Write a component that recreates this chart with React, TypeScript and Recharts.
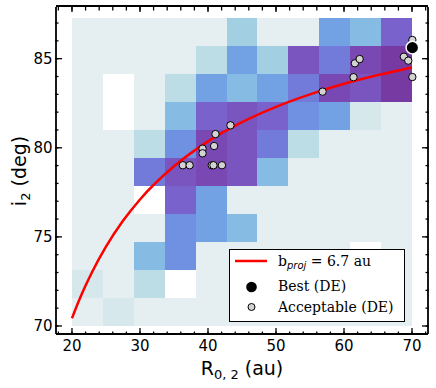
import React from 'react';
import { ComposedChart, XAxis, YAxis, ReferenceArea, Line, Scatter } from 'recharts';

// bin edges of the 2D histogram
const xEdges = [20, 24.55, 29.09, 33.64, 38.18, 42.73, 47.27, 51.82, 56.36, 60.91, 65.45, 70];
const yEdges = [70.0, 71.57, 73.14, 74.71, 76.28, 77.86, 79.43, 81.0, 82.57, 84.14, 85.71, 87.28];

// colour levels, 0 = empty bin
const palette = [
  '#ffffff', '#e5eef0', '#d6e8ec', '#bcdde6', '#a3cfe2', '#86bce4', '#72a2e3',
  '#7090e2', '#727ada', '#7962cc', '#7a55c0', '#7a48b3', '#773aa2',
];

// rows listed from top (highest i2) to bottom
const binLevels = [
  [1, 1, 1, 1, 1, 4, 1, 1, 6, 5, 9],
  [1, 1, 1, 1, 3, 6, 4, 10, 8, 11, 12],
  [1, 0, 1, 3, 6, 5, 6, 8, 11, 10, 12],
  [1, 0, 1, 5, 9, 10, 9, 7, 6, 2, 1],
  [1, 1, 3, 7, 11, 10, 8, 3, 1, 1, 1],
  [1, 1, 8, 10, 11, 10, 5, 1, 1, 1, 1],
  [1, 1, 0, 9, 6, 1, 1, 1, 1, 1, 1],
  [1, 1, 1, 7, 6, 5, 1, 1, 1, 1, 1],
  [1, 1, 5, 7, 1, 1, 1, 1, 1, 0, 1],
  [2, 1, 3, 0, 1, 1, 1, 1, 1, 1, 1],
  [1, 2, 1, 1, 1, 1, 1, 1, 1, 1, 1],
];

// b_proj = 6.7 au curve
const curveR = [20, 21, 22, 23, 25, 27.5, 30, 35, 40, 45, 50, 55, 60, 65, 70];
const curveI = [70.43, 71.4, 72.27, 73.06, 74.45, 75.9, 77.1, 78.96, 80.36, 81.44, 82.3, 83.0, 83.59, 84.08, 84.51];

const acceptR = [36.3, 37.3, 39.2, 39.2, 40.9, 41.1, 40.55, 40.8, 42.05, 43.3, 56.85, 61.4, 61.6, 62.3, 68.8, 69.45, 70.05, 70.05];
const acceptI = [79.02, 79.02, 79.95, 79.69, 80.1, 80.77, 79.02, 79.02, 79.02, 81.26, 83.15, 83.96, 84.74, 84.98, 85.11, 84.89, 83.97, 86.05];

const bestR = [70.05];
const bestI = [85.62];

const xMinor = [18, 20, 22, 24, 26, 28, 30, 32, 34, 36, 38, 40, 42, 44, 46, 48, 50, 52, 54, 56, 58, 60, 62, 64, 66, 68, 70, 72];
const xMajor = [20, 30, 40, 50, 60, 70];
const yMinor = [70, 71, 72, 73, 74, 75, 76, 77, 78, 79, 80, 81, 82, 83, 84, 85, 86, 87];
const yMajor = [70, 75, 80, 85];

const curveData = curveR.map((x, i) => ({ x, y: curveI[i] }));
const acceptData = acceptR.map((x, i) => ({ x, y: acceptI[i] }));
const bestData = bestR.map((x, i) => ({ x, y: bestI[i] }));

const xDomain = [17.65, 72.35];
const yDomain = [69.55, 87.9];

const SANS = '"DejaVu Sans", sans-serif';
const SERIF = '"DejaVu Serif", serif';
const FRAME = { stroke: '#000', strokeWidth: 1.8 };
const TICKLINE = { stroke: '#000', strokeWidth: 1.3 };

const BottomLabel = (props: any) => (
  <text x={props.x} y={props.y + 17} textAnchor="middle" fontSize={15} fontFamily={SANS} fill="#000">
    {props.payload.value}
  </text>
);
const LeftLabel = (props: any) => (
  <text x={props.x - 3.5} y={props.y} dy="0.36em" textAnchor="end" fontSize={15} fontFamily={SANS} fill="#000">
    {props.payload.value}
  </text>
);
const NoLabel = () => <g />;
const Hidden = () => <g />;

const AcceptDot = (props: any) => (
  <circle cx={props.cx} cy={props.cy} r={3.7} fill="#d3d3d3" stroke="#000" strokeWidth={1} />
);
const BestDot = (props: any) => (
  <circle cx={props.cx} cy={props.cy} r={6.3} fill="#000" stroke="#fff" strokeWidth={1.5} />
);

export default function App() {
  const nRows = binLevels.length;
  return (
    <div style={{ position: 'absolute', left: 0, top: 0, width: 436, height: 388, background: '#fff', fontFamily: SANS }}>
      <ComposedChart width={436} height={388} margin={{ top: 5, right: 6, left: 54, bottom: 52 }}>
        {/* major ticks + frame */}
        <XAxis
          type="number" dataKey="x" domain={xDomain} allowDataOverflow
          ticks={xMajor} interval={0} height={1} tickSize={-6} tickMargin={6}
          tickLine={TICKLINE} axisLine={FRAME} tick={BottomLabel}
        />
        <XAxis
          xAxisId="top" orientation="top" type="number" dataKey="x" domain={xDomain} allowDataOverflow
          ticks={xMajor} interval={0} height={1} tickSize={-6} tickMargin={6}
          tickLine={TICKLINE} axisLine={FRAME} tick={NoLabel}
        />
        <YAxis
          type="number" dataKey="y" domain={yDomain} allowDataOverflow
          ticks={yMajor} interval={0} width={1} tickSize={-6} tickMargin={6}
          tickLine={TICKLINE} axisLine={FRAME} tick={LeftLabel}
        />
        <YAxis
          yAxisId="right" orientation="right" type="number" dataKey="y" domain={yDomain} allowDataOverflow
          ticks={yMajor} interval={0} width={1} tickSize={-6} tickMargin={6}
          tickLine={TICKLINE} axisLine={FRAME} tick={NoLabel}
        />
        {/* minor ticks */}
        <XAxis
          xAxisId="bminor" type="number" dataKey="x" domain={xDomain} allowDataOverflow
          ticks={xMinor} interval={0} height={1} tickSize={-3.5} tickMargin={3.5}
          tickLine={TICKLINE} axisLine={false} tick={NoLabel}
        />
        <XAxis
          xAxisId="tminor" orientation="top" type="number" dataKey="x" domain={xDomain} allowDataOverflow
          ticks={xMinor} interval={0} height={1} tickSize={-3.5} tickMargin={3.5}
          tickLine={TICKLINE} axisLine={false} tick={NoLabel}
        />
        <YAxis
          yAxisId="lminor" type="number" dataKey="y" domain={yDomain} allowDataOverflow
          ticks={yMinor} interval={0} width={1} tickSize={-3.5} tickMargin={3.5}
          tickLine={TICKLINE} axisLine={false} tick={NoLabel}
        />
        <YAxis
          yAxisId="rminor" orientation="right" type="number" dataKey="y" domain={yDomain} allowDataOverflow
          ticks={yMinor} interval={0} width={1} tickSize={-3.5} tickMargin={3.5}
          tickLine={TICKLINE} axisLine={false} tick={NoLabel}
        />
        {binLevels.map((row, r) =>
          row.map((lvl, c) => (
            <ReferenceArea
              key={`${r}-${c}`}
              x1={xEdges[c]} x2={xEdges[c + 1]}
              y1={yEdges[nRows - 1 - r]} y2={yEdges[nRows - r]}
              fill={palette[lvl]} fillOpacity={1} stroke="none"
              shapeRendering="crispEdges"
            />
          ))
        )}
        {/* invisible series so the frame axes get their ticks */}
        <Scatter data={acceptData} xAxisId="top" yAxisId="right" shape={Hidden} isAnimationActive={false} />
        <Scatter data={acceptData} xAxisId="bminor" yAxisId="lminor" shape={Hidden} isAnimationActive={false} />
        <Scatter data={acceptData} xAxisId="tminor" yAxisId="rminor" shape={Hidden} isAnimationActive={false} />
        <Line
          data={curveData} dataKey="y" type="monotone" stroke="#ff0000" strokeWidth={2.5}
          dot={false} activeDot={false} isAnimationActive={false}
        />
        <Scatter data={acceptData} shape={AcceptDot} isAnimationActive={false} />
        <Scatter data={bestData} shape={BestDot} isAnimationActive={false} />
        <text x={242} y={375} textAnchor="middle" fontSize={19} fontFamily={SANS} fill="#000">
          R<tspan fontSize={13} dy={4}>0, 2</tspan><tspan dy={-4}> (au)</tspan>
        </text>
        <text transform="translate(26,171) rotate(-90)" textAnchor="middle" fontSize={19} fontFamily={SANS} fill="#000">
          i<tspan fontSize={13} dy={4}>2</tspan><tspan dy={-4}> (deg)</tspan>
        </text>
      </ComposedChart>
      <div style={{ position: 'absolute', left: 229, top: 249, width: 176, height: 73, boxSizing: 'border-box', border: '1.5px solid #000', background: '#fff' }}>
        <svg width={176} height={73} style={{ position: 'absolute', left: -1.5, top: -1.5 }}>
          <line x1={6} x2={38} y1={12} y2={12} stroke="#ff0000" strokeWidth={2.5} />
          <text x={49} y={17} fontSize={14} fontFamily={SERIF} fill="#000">
            b<tspan fontSize={10} fontStyle="italic" fontFamily={SANS} dy={3}>proj</tspan><tspan dy={-3}> = 6.7 au</tspan>
          </text>
          <circle cx={22.5} cy={38} r={5.3} fill="#000" />
          <text x={49} y={42} fontSize={14} fontFamily={SERIF} fill="#000">Best (DE)</text>
          <circle cx={22.5} cy={58} r={3.5} fill="#d3d3d3" stroke="#000" strokeWidth={1} />
          <text x={49} y={63} fontSize={14} fontFamily={SERIF} fill="#000">Acceptable (DE)</text>
        </svg>
      </div>
    </div>
  );
}
